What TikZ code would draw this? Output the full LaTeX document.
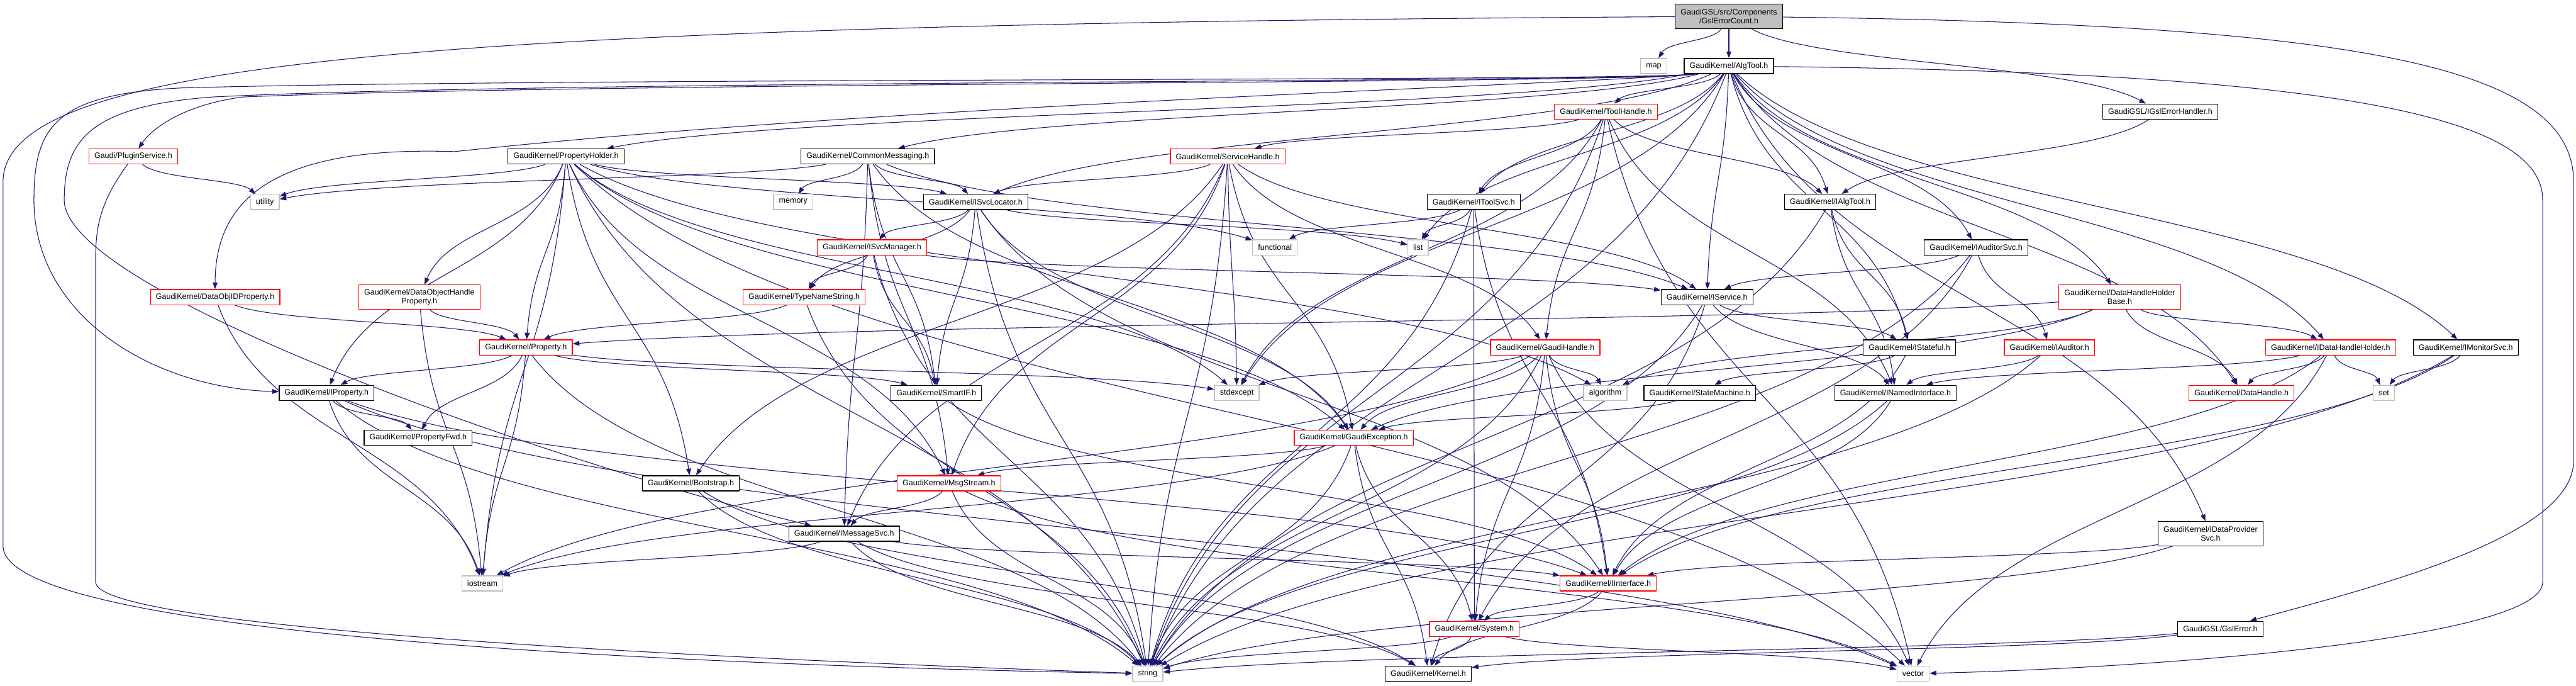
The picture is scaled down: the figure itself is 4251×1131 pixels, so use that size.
\documentclass[tikz,border=0pt]{standalone}
\usepackage{fontspec}
\setmainfont{Liberation Sans}
\usetikzlibrary{arrows.meta,calc}
\definecolor{edgeblue}{RGB}{25,25,112}
\definecolor{boxgray}{RGB}{191,191,191}
\pgfdeclarelayer{bg}
\pgfsetlayers{bg,main}
\begin{document}
\begin{tikzpicture}[x=1pt, y=-1pt, line join=round, line cap=round,
  font=\fontsize{13}{15}\selectfont,
  hdr/.style={draw=black, line width=1.3pt, fill=white, inner xsep=9pt, inner ysep=0pt, minimum height=25pt},
  hdrred/.style={hdr, draw=red},
  hdrsys/.style={hdr, draw=boxgray},
  hdrmain/.style={hdr, fill=boxgray},
  twoline/.style={align=center, minimum height=40pt},
  dep/.style={draw=edgeblue, line width=1.1pt, -{Triangle[length=11pt,width=8pt]}}]
\useasboundingbox (0,0) rectangle (4251,1131);
%Các tệp
\node[hdrmain, twoline] (gslcount) at (2853,27) {GaudiGSL/src/Components\\/GslErrorCount.h};
\node[hdrsys] (map) at (2729,109) {map};
\node[hdr] (algtool) at (2853,109) {GaudiKernel/AlgTool.h};
\node[hdrred] (toolhandle) at (2650,184) {GaudiKernel/ToolHandle.h};
\node[hdr] (igslhandler) at (3565,184) {GaudiGSL/IGslErrorHandler.h};
\node[hdr] (propholder) at (934,258) {GaudiKernel/PropertyHolder.h};
\node[hdrred] (plugin) at (220,258) {Gaudi/PluginService.h};
\node[hdr] (commsg) at (1432,258) {GaudiKernel/CommonMessaging.h};
\node[hdrred] (svchandle) at (2026,258) {GaudiKernel/ServiceHandle.h};
\node[hdrsys] (utility) at (437,333) {utility};
\node[hdrsys] (memory) at (1309,333) {memory};
\node[hdr] (isvcloc) at (1610,333) {GaudiKernel/ISvcLocator.h};
\node[hdr] (itoolsvc) at (2432,333) {GaudiKernel/IToolSvc.h};
\node[hdr] (ialgtool) at (3020,333) {GaudiKernel/IAlgTool.h};
\node[hdrsys] (functional) at (2104,408) {functional};
\node[hdrsys] (list) at (2340,408) {list};
\node[hdrred] (isvcmgr) at (1439,408) {GaudiKernel/ISvcManager.h};
\node[hdr] (iauditorsvc) at (3261,408) {GaudiKernel/IAuditorSvc.h};
\node[hdrred] (dataobjid) at (355,490) {GaudiKernel/DataObjIDProperty.h};
\node[hdrred, twoline] (dohprop) at (692,490) {GaudiKernel/DataObjectHandle\\Property.h};
\node[hdrred] (typename) at (1327,490) {GaudiKernel/TypeNameString.h};
\node[hdr] (iservice) at (2817,490) {GaudiKernel/IService.h};
\node[hdrred, twoline] (dhhbase) at (3498,490) {GaudiKernel/DataHandleHolder\\Base.h};
\node[hdrred] (property) at (868,573) {GaudiKernel/Property.h};
\node[hdrred] (gaudihandle) at (2550,573) {GaudiKernel/GaudiHandle.h};
\node[hdr] (istateful) at (3151,573) {GaudiKernel/IStateful.h};
\node[hdrred] (iauditor) at (3382,573) {GaudiKernel/IAuditor.h};
\node[hdrred] (idhholder) at (3846,573) {GaudiKernel/IDataHandleHolder.h};
\node[hdr] (imonitor) at (4069,573) {GaudiKernel/IMonitorSvc.h};
\node[hdr] (iproperty) at (539,648) {GaudiKernel/IProperty.h};
\node[hdr] (smartif) at (1545,648) {GaudiKernel/SmartIF.h};
\node[hdrsys] (stdexcept) at (2041,648) {stdexcept};
\node[hdrsys] (algorithm) at (2649,648) {algorithm};
\node[hdr] (statemachine) at (2805,648) {GaudiKernel/StateMachine.h};
\node[hdr] (inamed) at (3128,648) {GaudiKernel/INamedInterface.h};
\node[hdrred] (datahandle) at (3699,648) {GaudiKernel/DataHandle.h};
\node[hdrsys] (set) at (3934,648) {set};
\node[hdr] (propfwd) at (690,722) {GaudiKernel/PropertyFwd.h};
\node[hdrred] (gaudiexc) at (2234,722) {GaudiKernel/GaudiException.h};
\node[hdr] (bootstrap) at (1140,797) {GaudiKernel/Bootstrap.h};
\node[hdrred] (msgstream) at (1566,797) {GaudiKernel/MsgStream.h};
\node[hdr] (imsgsvc) at (1393,880) {GaudiKernel/IMessageSvc.h};
\node[hdr, twoline] (idataprov) at (3648,880) {GaudiKernel/IDataProvider\\Svc.h};
\node[hdrsys] (iostream) at (796,962) {iostream};
\node[hdrred] (iinterface) at (2654,962) {GaudiKernel/IInterface.h};
\node[hdrred] (system) at (2433,1037) {GaudiKernel/System.h};
\node[hdr] (gslerror) at (3664,1037) {GaudiGSL/GslError.h};
\node[hdrsys] (string) at (1894,1111) {string};
\node[hdr] (kernel) at (2357,1111) {GaudiKernel/Kernel.h};
\node[hdrsys] (vector) at (3157,1111) {vector};
\coordinate (atout) at ([xshift=18pt]algtool.south west);
%Các mũi tên
\begin{pgfonlayer}{bg}
\fill[white] (0,0) rectangle (4251,1131);
\foreach \a/\b in {gslcount/map, gslcount/algtool, gslcount/igslhandler,
  algtool/propholder, algtool/commsg, algtool/isvcloc,
  algtool/toolhandle, algtool/itoolsvc, algtool/iservice, algtool/ialgtool,
  algtool/istateful, algtool/iauditorsvc, algtool/dhhbase, algtool/idataprov, algtool/datahandle,
  algtool/idhholder, algtool/imonitor, algtool/string, algtool/list, algtool/stdexcept,
  igslhandler/ialgtool, gslerror/string, gslerror/kernel, plugin/utility,
  propholder/utility, propholder/iostream, propholder/string, propholder/iproperty,
  propholder/dohprop, propholder/property, propholder/bootstrap, propholder/msgstream,
  propholder/gaudiexc, propholder/isvcloc, propholder/stdexcept, propholder/algorithm,
  propholder/functional, propholder/vector,
  commsg/utility, commsg/memory, commsg/isvcloc, commsg/gaudiexc, commsg/imsgsvc,
  commsg/msgstream, commsg/smartif, commsg/iservice,
  svchandle/gaudihandle, svchandle/isvcloc, svchandle/iservice, svchandle/bootstrap,
  svchandle/imsgsvc, svchandle/msgstream, svchandle/gaudiexc, svchandle/string, svchandle/stdexcept,
  toolhandle/svchandle, toolhandle/gaudihandle, toolhandle/ialgtool, toolhandle/inamed,
  toolhandle/itoolsvc, toolhandle/stdexcept, toolhandle/string, toolhandle/vector,
  isvcloc/list, isvcloc/isvcmgr, isvcloc/typename, isvcloc/smartif, isvcloc/iinterface,
  isvcloc/gaudiexc, isvcloc/string,
  itoolsvc/functional, itoolsvc/list, itoolsvc/string, itoolsvc/iinterface, itoolsvc/system,
  ialgtool/inamed, ialgtool/istateful, ialgtool/string,
  isvcmgr/typename, isvcmgr/smartif, isvcmgr/string, isvcmgr/iservice,
  iauditorsvc/iservice, iauditorsvc/iauditor, iauditorsvc/string, iauditorsvc/system,
  dataobjid/property, dataobjid/iostream, dohprop/property, dohprop/iostream,
  typename/property, typename/string,
  iservice/inamed, iservice/istateful, iservice/kernel, iservice/string,
  dhhbase/property, dhhbase/algorithm, dhhbase/gaudiexc, dhhbase/datahandle, dhhbase/idhholder,
  property/iproperty, property/propfwd, property/string, property/stdexcept, property/smartif,
  property/iostream,
  gaudihandle/gaudiexc, gaudihandle/iinterface, gaudihandle/system, gaudihandle/algorithm,
  gaudihandle/iostream, gaudihandle/string, gaudihandle/vector, gaudihandle/stdexcept,
  istateful/statemachine, istateful/iinterface, iauditor/inamed, iauditor/string,
  idhholder/inamed, idhholder/datahandle, idhholder/set, idhholder/iinterface, idhholder/vector,
  imonitor/set, imonitor/iinterface, imonitor/string,
  iproperty/propfwd, iproperty/iinterface, iproperty/iostream, iproperty/string, iproperty/vector,
  smartif/iinterface, statemachine/gaudiexc, inamed/iinterface, inamed/string,
  gaudiexc/msgstream, gaudiexc/system, gaudiexc/kernel, gaudiexc/iostream, gaudiexc/string,
  bootstrap/kernel, bootstrap/string, msgstream/imsgsvc, msgstream/string, msgstream/vector,
  imsgsvc/iinterface, imsgsvc/iostream, imsgsvc/string, imsgsvc/kernel,
  idataprov/iinterface, idataprov/string, iinterface/system, iinterface/kernel,
  system/kernel, system/string, system/vector}
  \draw[dep] let \p1=(\a), \p2=(\b) in (\a) .. controls ({\x1+0.2*(\x2-\x1)},{0.5*(\y1+\y2)}) and ({\x2-0.2*(\x2-\x1)},{0.5*(\y1+\y2)}) .. (\b);
%đường vòng ngoài
\draw[dep] (gslcount) .. controls (700,40) and (5,100) .. (5,300) -- (5,900) .. controls (5,1060) and (1300,1100) .. (string);
\draw[dep] (gslcount) .. controls (3900,40) and (4247,110) .. (4247,300) -- (4247,760) .. controls (4247,880) and (3950,960) .. (gslerror);
\draw[dep] (atout) .. controls (2700,134) and (900,128) .. (300,145) .. controls (90,155) and (56,210) .. (56,330) .. controls (56,520) and (250,640) .. (iproperty);
\draw[dep] (atout) .. controls (2700,136) and (900,132) .. (350,160) .. controls (150,175) and (106,230) .. (106,330) .. controls (106,480) and (900,760) .. (imsgsvc);
\draw[dep] (atout) .. controls (2700,138) and (1000,135) .. (400,160) .. controls (290,175) and (245,220) .. (plugin);
\draw[dep] (atout) .. controls (2600,140) and (1500,170) .. (750,250) .. controls (450,240) and (355,330) .. (dataobjid);
\draw[dep] (algtool) .. controls (3900,120) and (4196,200) .. (4196,330) -- (4196,960) .. controls (4196,1050) and (3600,1100) .. (vector);
\draw[dep] (plugin) .. controls (175,320) and (158,360) .. (158,420) -- (158,960) .. controls (158,1030) and (1000,1080) .. (string);
\end{pgfonlayer}
\end{tikzpicture}
\end{document}
